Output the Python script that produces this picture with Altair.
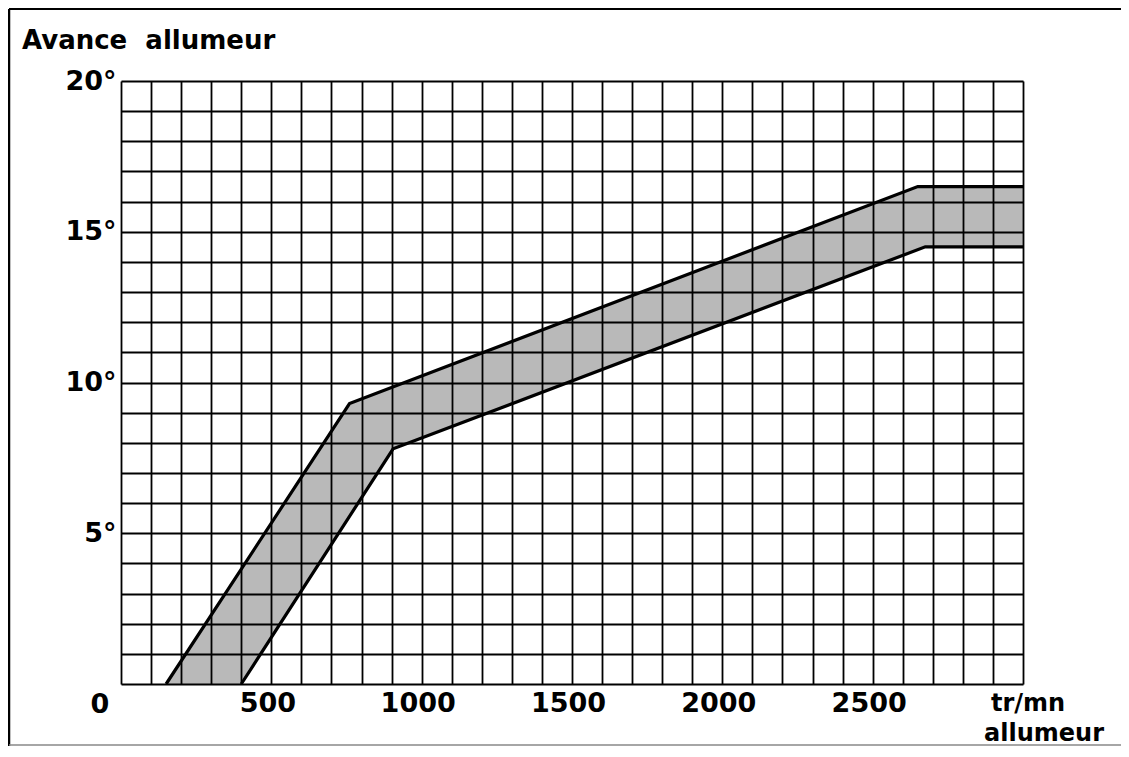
import altair as alt
import pandas as pd

# Band edges of the distributor advance curve (rpm, degrees)
upper_rpm = [150, 760, 2650, 3000]
upper_deg = [0.0, 9.3, 16.5, 16.5]
lower_rpm = [400, 905, 2675, 3000]
lower_deg = [0.0, 7.8, 14.5, 14.5]

x_labels = [500, 1000, 1500, 2000, 2500]
y_labels = [5, 10, 15, 20]

W, H = 902, 603
FONT = "DejaVu Sans"
FS = 27

up = pd.DataFrame({"rpm": upper_rpm, "deg": upper_deg, "edge": "upper"})
lo = pd.DataFrame({"rpm": lower_rpm, "deg": lower_deg, "edge": "lower"})
edges = pd.concat([up, lo], ignore_index=True)

xs = alt.Scale(domain=[0, 3000], nice=False, zero=False)
ys = alt.Scale(domain=[0, 20], nice=False)

x_enc = alt.X(
    "rpm:Q", scale=xs, title=None,
    axis=alt.Axis(
        values=list(range(0, 3001, 100)), tickCount=100,
        labelExpr="indexof([" + ",".join(str(v) for v in x_labels) + "], datum.value) >= 0 ? datum.label : ''",
        labelFont=FONT, labelFontSize=FS, labelFontWeight="bold", labelColor="black",
        labelPadding=6, labelOffset=-4, labelFlush=False, labelOverlap=False,
        ticks=False, domain=False, grid=True, gridColor="black", gridWidth=1.8,
        gridOpacity=1, zindex=1, format="d",
    ),
)
y_enc = alt.Y(
    "deg:Q", scale=ys, title=None,
    axis=alt.Axis(
        values=list(range(0, 21)), tickCount=100,
        labelExpr="indexof([" + ",".join(str(v) for v in y_labels) + "], datum.value) >= 0 ? datum.value + '°' : ''",
        labelFont=FONT, labelFontSize=FS, labelFontWeight="bold", labelColor="black",
        labelPadding=5, labelOverlap=False, labelFlush=False,
        ticks=False, domain=False, grid=True, gridColor="black", gridWidth=1.8,
        gridOpacity=1, zindex=1,
    ),
)

band_fill = alt.Chart(up).mark_area(color="#b9b9b9", opacity=1).encode(x=x_enc, y=y_enc)
band_cut = alt.Chart(lo).mark_area(color="white", opacity=1).encode(
    x=alt.X("rpm:Q", scale=xs), y=alt.Y("deg:Q", scale=ys)
)
lines = alt.Chart(edges).mark_line(color="black", strokeWidth=3.2, strokeJoin="miter").encode(
    x=alt.X("rpm:Q", scale=xs), y=alt.Y("deg:Q", scale=ys), detail="edge:N"
)

def txt(s, x, y, size=FS, align="left"):
    return alt.Chart(pd.DataFrame({"t": [s]})).mark_text(
        font=FONT, fontSize=size, fontWeight="bold", color="black",
        align=align, baseline="alphabetic",
    ).encode(text="t:N", x=alt.value(x), y=alt.value(y))

title = txt("Avance\u00a0\u00a0allumeur", -99, -32, size=26)
zero = txt("0", -21, H + 29, align="center")
unit1 = txt("tr/mn", 907, H + 27, size=24, align="center")
unit2 = txt("allumeur", 923, H + 57, size=24, align="center")

frame_top = alt.Chart(pd.DataFrame({"a": [0]})).mark_rule(color="black", strokeWidth=2).encode(
    x=alt.value(-112), x2=alt.value(W + 98), y=alt.value(-72)
)
frame_left = alt.Chart(pd.DataFrame({"a": [0]})).mark_rule(color="black", strokeWidth=2.5).encode(
    x=alt.value(-112), y=alt.value(-72), y2=alt.value(H + 62)
)
frame_bottom = alt.Chart(pd.DataFrame({"a": [0]})).mark_rule(color="#888888", strokeWidth=1.5).encode(
    x=alt.value(-112), x2=alt.value(W + 98), y=alt.value(H + 61)
)

chart = alt.layer(
    band_fill, band_cut, lines, title, zero, unit1, unit2, frame_top, frame_left, frame_bottom
).properties(
    width=W, height=H,
    autosize=alt.AutoSizeParams(type="none"),
    padding={"left": 113, "top": 73, "right": 98, "bottom": 62},
).configure_view(
    stroke="black", strokeWidth=3
).configure(background="white")

chart.save("out.html", embed_options={"renderer": "svg", "actions": False})
